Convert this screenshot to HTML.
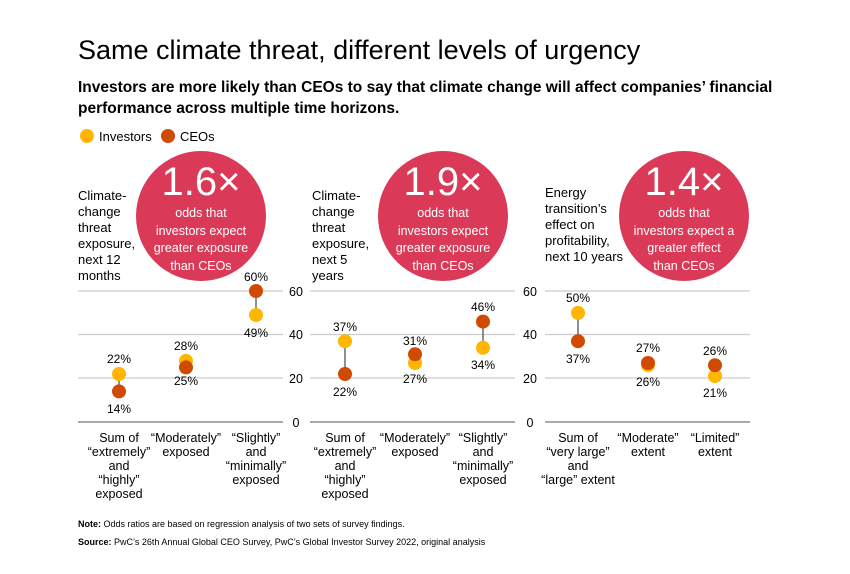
<!DOCTYPE html>
<html><head><meta charset="utf-8"><style>
body{margin:0;background:#fff;}
svg text{font-family:"Liberation Sans",sans-serif;}
</style></head><body>
<svg width="850" height="569" xmlns="http://www.w3.org/2000/svg">
<text x="78" y="59" font-size="27" fill="#000">Same climate threat, different levels of urgency</text>
<text x="78" y="92" font-size="15.5" font-weight="bold" fill="#000">Investors are more likely than CEOs to say that climate change will affect companies’ financial</text>
<text x="78" y="113" font-size="15.5" font-weight="bold" fill="#000">performance across multiple time horizons.</text>
<circle cx="87" cy="136" r="7" fill="#FFB600"/><text x="99" y="141" font-size="13">Investors</text>
<circle cx="168" cy="136" r="7" fill="#D04A02"/><text x="180" y="141" font-size="13">CEOs</text>

<g font-size="13" fill="#000">
<text x="78" y="200">Climate-</text><text x="78" y="216">change</text><text x="78" y="232">threat</text><text x="78" y="248">exposure,</text><text x="78" y="264">next 12</text><text x="78" y="280">months</text>
<text x="312" y="200">Climate-</text><text x="312" y="216">change</text><text x="312" y="232">threat</text><text x="312" y="248">exposure,</text><text x="312" y="264">next 5</text><text x="312" y="280">years</text>
<text x="545" y="197">Energy</text><text x="545" y="213">transition’s</text><text x="545" y="229">effect on</text><text x="545" y="245">profitability,</text><text x="545" y="261">next 10 years</text>
</g>

<g fill="#DA3A57">
<circle cx="201" cy="216" r="65"/><circle cx="443" cy="216" r="65"/><circle cx="684" cy="216" r="65"/>
</g>
<g fill="#fff" text-anchor="middle">
<text x="201" y="195" font-size="40">1.6×</text>
<text x="201" y="217" font-size="12.5">odds that</text><text x="201" y="235" font-size="12.5">investors expect</text><text x="201" y="252" font-size="12.5">greater exposure</text><text x="201" y="270" font-size="12.5">than CEOs</text>
<text x="443" y="195" font-size="40">1.9×</text>
<text x="443" y="217" font-size="12.5">odds that</text><text x="443" y="235" font-size="12.5">investors expect</text><text x="443" y="252" font-size="12.5">greater exposure</text><text x="443" y="270" font-size="12.5">than CEOs</text>
<text x="684" y="195" font-size="40">1.4×</text>
<text x="684" y="217" font-size="12.5">odds that</text><text x="684" y="235" font-size="12.5">investors expect a</text><text x="684" y="252" font-size="12.5">greater effect</text><text x="684" y="270" font-size="12.5">than CEOs</text>
</g>

<g stroke="#ccc" stroke-width="1.3">
<line x1="78" y1="291" x2="283" y2="291"/><line x1="78" y1="334.5" x2="283" y2="334.5"/><line x1="78" y1="378" x2="283" y2="378"/>
<line x1="310" y1="291" x2="515" y2="291"/><line x1="310" y1="334.5" x2="515" y2="334.5"/><line x1="310" y1="378" x2="515" y2="378"/>
<line x1="545" y1="291" x2="750" y2="291"/><line x1="545" y1="334.5" x2="750" y2="334.5"/><line x1="545" y1="378" x2="750" y2="378"/>
</g>
<g stroke="#777" stroke-width="1.3">
<line x1="78" y1="422" x2="283" y2="422"/><line x1="310" y1="422" x2="515" y2="422"/><line x1="545" y1="422" x2="750" y2="422"/>
</g>
<g font-size="12.5" text-anchor="middle" fill="#000">
<text x="296" y="296">60</text><text x="296" y="339">40</text><text x="296" y="383">20</text><text x="296" y="427">0</text>
<text x="530" y="296">60</text><text x="530" y="339">40</text><text x="530" y="383">20</text><text x="530" y="427">0</text>
</g>

<g stroke="#555" stroke-width="1.3">
<line x1="119" y1="374" x2="119" y2="391.4"/><line x1="256" y1="291" x2="256" y2="315"/>
<line x1="345" y1="341.2" x2="345" y2="374"/><line x1="483" y1="321.6" x2="483" y2="347.8"/>
<line x1="578" y1="312.9" x2="578" y2="341.2"/><line x1="715" y1="365.2" x2="715" y2="376.1"/>
</g>
<g fill="#FFB600">
<circle cx="119" cy="374" r="7"/><circle cx="186" cy="360.9" r="7"/><circle cx="256" cy="315" r="7"/>
<circle cx="345" cy="341.2" r="7"/><circle cx="415" cy="363" r="7"/><circle cx="483" cy="347.8" r="7"/>
<circle cx="578" cy="312.9" r="7"/><circle cx="648" cy="365.2" r="7"/><circle cx="715" cy="376.1" r="7"/>
</g>
<g fill="#D04A02">
<circle cx="119" cy="391.4" r="7"/><circle cx="186" cy="367.4" r="7"/><circle cx="256" cy="291" r="7"/>
<circle cx="345" cy="374" r="7"/><circle cx="415" cy="354.3" r="7"/><circle cx="483" cy="321.6" r="7"/>
<circle cx="578" cy="341.2" r="7"/><circle cx="648" cy="363" r="7"/><circle cx="715" cy="365.2" r="7"/>
</g>
<g font-size="12" text-anchor="middle" fill="#000">
<text x="119" y="363">22%</text><text x="119" y="413">14%</text>
<text x="186" y="350">28%</text><text x="186" y="385">25%</text>
<text x="256" y="281">60%</text><text x="256" y="337">49%</text>
<text x="345" y="331">37%</text><text x="345" y="396">22%</text>
<text x="415" y="345">31%</text><text x="415" y="383">27%</text>
<text x="483" y="311">46%</text><text x="483" y="369">34%</text>
<text x="578" y="302">50%</text><text x="578" y="363">37%</text>
<text x="648" y="352">27%</text><text x="648" y="386">26%</text>
<text x="715" y="355">26%</text><text x="715" y="397">21%</text>
</g>
<g font-size="12.5" text-anchor="middle" fill="#000">
<text x="119" y="442">Sum of</text><text x="119" y="456">“extremely”</text><text x="119" y="470">and</text><text x="119" y="484">“highly”</text><text x="119" y="498">exposed</text>
<text x="186" y="442">“Moderately”</text><text x="186" y="456">exposed</text>
<text x="256" y="442">“Slightly”</text><text x="256" y="456">and</text><text x="256" y="470">“minimally”</text><text x="256" y="484">exposed</text>
<text x="345" y="442">Sum of</text><text x="345" y="456">“extremely”</text><text x="345" y="470">and</text><text x="345" y="484">“highly”</text><text x="345" y="498">exposed</text>
<text x="415" y="442">“Moderately”</text><text x="415" y="456">exposed</text>
<text x="483" y="442">“Slightly”</text><text x="483" y="456">and</text><text x="483" y="470">“minimally”</text><text x="483" y="484">exposed</text>
<text x="578" y="442">Sum of</text><text x="578" y="456">“very large”</text><text x="578" y="470">and</text><text x="578" y="484">“large” extent</text>
<text x="648" y="442">“Moderate”</text><text x="648" y="456">extent</text>
<text x="715" y="442">“Limited”</text><text x="715" y="456">extent</text>
</g>
<text x="78" y="527" font-size="9"><tspan font-weight="bold">Note:</tspan> Odds ratios are based on regression analysis of two sets of survey findings.</text>
<text x="78" y="545" font-size="9"><tspan font-weight="bold">Source:</tspan> PwC’s 26th Annual Global CEO Survey, PwC’s Global Investor Survey 2022, original analysis</text>
</svg>
</body></html>
